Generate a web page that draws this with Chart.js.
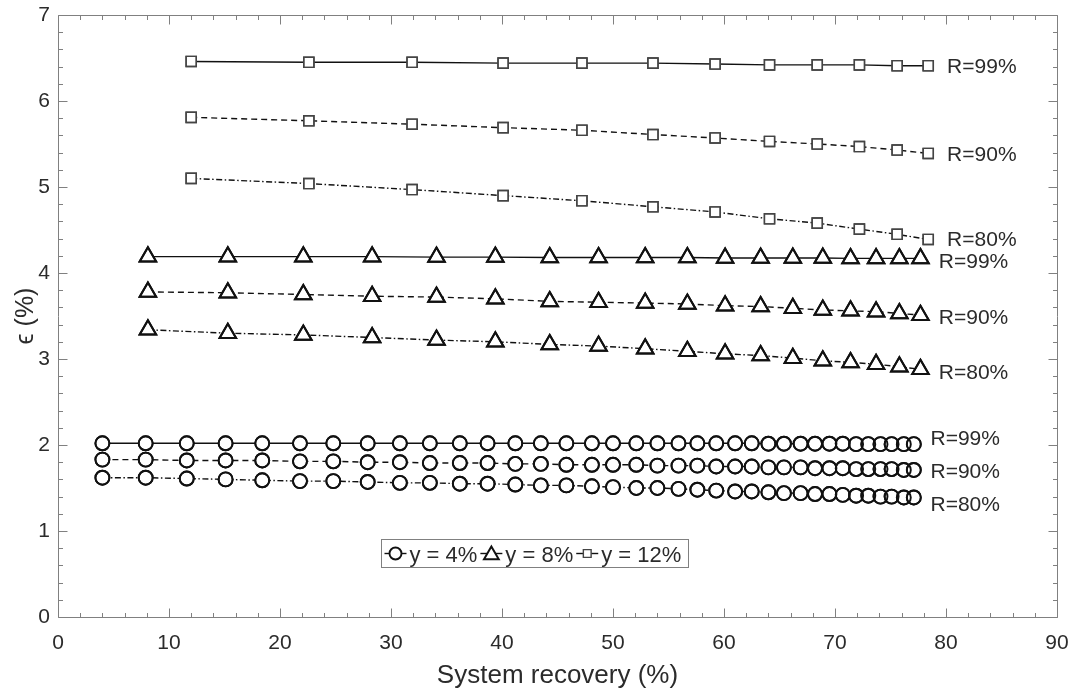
<!DOCTYPE html>
<html lang="en">
  <head>
    <meta charset="UTF-8" />
    <title>System recovery vs epsilon</title>
    <style>
      html, body { margin: 0; padding: 0; background: #fff; }
      #wrap { width: 1078px; height: 691px; }
    </style>
  </head>
  <body>
    <div id="wrap">
      <canvas id="myChart" width="1078" height="691"></canvas>
    </div>
    <script src="https://cdn.jsdelivr.net/npm/chart.js@4.4.1/dist/chart.umd.min.js"></script>
    <script>
      // ---- data ----
      const gasLabels = ["y = 4%", "y = 8%", "y = 12%"];
      const recoveryLabels = ["R=99%", "R=90%", "R=80%"];
      const xTicks = [0, 10, 20, 30, 40, 50, 60, 70, 80, 90];
      const yTicks = [0, 1, 2, 3, 4, 5, 6, 7];

      // y = 4% (circles)
      const recovery4 = [4.0, 7.9, 11.6, 15.1, 18.4, 21.8, 24.8, 27.9, 30.8, 33.5, 36.2, 38.7,
        41.2, 43.5, 45.8, 48.1, 50.0, 52.1, 54.0, 55.9, 57.6, 59.3, 61.0, 62.5,
        64.0, 65.4, 66.9, 68.2, 69.5, 70.7, 71.9, 73.0, 74.1, 75.1, 76.2, 77.1];
      const eps4R99 = [2.02, 2.02, 2.02, 2.02, 2.02, 2.02, 2.02, 2.02, 2.02, 2.02, 2.02, 2.02,
        2.02, 2.02, 2.02, 2.02, 2.02, 2.02, 2.02, 2.02, 2.02, 2.02, 2.02, 2.02,
        2.015, 2.015, 2.015, 2.015, 2.015, 2.015, 2.01, 2.01, 2.01, 2.01, 2.01, 2.01];
      const eps4R90 = [1.83, 1.83, 1.82, 1.82, 1.82, 1.81, 1.81, 1.80, 1.80, 1.79, 1.79, 1.79,
        1.78, 1.78, 1.77, 1.77, 1.77, 1.77, 1.76, 1.76, 1.76, 1.75, 1.75, 1.75,
        1.74, 1.74, 1.74, 1.73, 1.73, 1.73, 1.72, 1.72, 1.72, 1.72, 1.71, 1.71];
      const eps4R80 = [1.62, 1.62, 1.61, 1.60, 1.59, 1.58, 1.58, 1.57, 1.56, 1.56, 1.55, 1.55,
        1.54, 1.53, 1.53, 1.52, 1.51, 1.50, 1.50, 1.49, 1.48, 1.47, 1.46, 1.46,
        1.45, 1.44, 1.44, 1.43, 1.43, 1.42, 1.41, 1.41, 1.40, 1.40, 1.39, 1.39];

      // y = 8% (triangles)
      const recovery8 = [8.1, 15.3, 22.1, 28.3, 34.1, 39.4, 44.3, 48.7, 52.9, 56.7, 60.1, 63.3,
        66.2, 68.9, 71.4, 73.7, 75.8, 77.7];
      const eps8R99 = [4.19, 4.19, 4.19, 4.19, 4.185, 4.185, 4.18, 4.18, 4.18, 4.18, 4.175, 4.175,
        4.175, 4.175, 4.17, 4.17, 4.17, 4.17];
      const eps8R90 = [3.78, 3.77, 3.75, 3.73, 3.72, 3.70, 3.67, 3.66, 3.65, 3.64, 3.62, 3.61,
        3.59, 3.57, 3.56, 3.55, 3.53, 3.51];
      const eps8R80 = [3.34, 3.30, 3.28, 3.25, 3.22, 3.20, 3.17, 3.15, 3.12, 3.09, 3.06, 3.04,
        3.01, 2.98, 2.96, 2.94, 2.91, 2.88];

      // y = 12% (squares)
      const recovery12 = [12.0, 22.6, 31.9, 40.1, 47.2, 53.6, 59.2, 64.1, 68.4, 72.2, 75.6, 78.4];
      const eps12R99 = [6.46, 6.45, 6.45, 6.44, 6.44, 6.44, 6.43, 6.42, 6.42, 6.42, 6.41, 6.41];
      const eps12R90 = [5.81, 5.77, 5.73, 5.69, 5.66, 5.61, 5.57, 5.53, 5.50, 5.47, 5.43, 5.39];
      const eps12R80 = [5.10, 5.04, 4.97, 4.90, 4.84, 4.77, 4.71, 4.63, 4.58, 4.51, 4.45, 4.39];

      // text labels next to the curves, in data units (like MATLAB text())
      const labelAnchors = [
        { text: recoveryLabels[0], x: 80.1, y: 6.39 },
        { text: recoveryLabels[1], x: 80.1, y: 5.37 },
        { text: recoveryLabels[2], x: 80.1, y: 4.38 },
        { text: recoveryLabels[0], x: 79.35, y: 4.13 },
        { text: recoveryLabels[1], x: 79.35, y: 3.475 },
        { text: recoveryLabels[2], x: 79.35, y: 2.84 },
        { text: recoveryLabels[0], x: 78.6, y: 2.07 },
        { text: recoveryLabels[1], x: 78.6, y: 1.68 },
        { text: recoveryLabels[2], x: 78.6, y: 1.30 },
      ];

      // ---- styles ----
      const FONT = "'Liberation Sans', Arial, Helvetica, sans-serif";
      const TEXT_COLOR = "#2b2b2b";
      const AXIS_COLOR = "#808080";
      const DASHES = [[], [6, 4], [6, 2.5, 1.5, 2.5]];
      const MARKERS = [
        { pointStyle: "circle", radius: 7, borderWidth: 1.9, color: "#111", legendRadius: 6 },
        { pointStyle: "triangle", radius: 9.5, borderWidth: 2, color: "#111", legendRadius: 8.5 },
        { pointStyle: "rect", radius: 7.2, borderWidth: 1.4, color: "#444", legendRadius: 5.5 },
      ];

      const groups = [
        { x: recovery4, series: [eps4R99, eps4R90, eps4R80] },
        { x: recovery8, series: [eps8R99, eps8R90, eps8R80] },
        { x: recovery12, series: [eps12R99, eps12R90, eps12R80] },
      ];

      const datasets = [];
      groups.forEach((g, gi) => {
        const m = MARKERS[gi];
        g.series.forEach((vals, ri) => {
          const pts = g.x.map((x, i) => ({ x: x, y: vals[i] }));
          // line + white-filled markers (hides the line inside markers)
          datasets.push({
            label: gasLabels[gi] + " " + recoveryLabels[ri],
            data: pts,
            showLine: true,
            borderColor: "#111",
            borderWidth: 1.4,
            borderDash: DASHES[ri],
            pointStyle: m.pointStyle,
            pointRadius: m.radius,
            pointBorderWidth: m.borderWidth,
            pointBorderColor: m.color,
            pointBackgroundColor: "#fff",
            order: 2,
          });
          // outlines again on top so overlapping markers stay visible
          datasets.push({
            label: gasLabels[gi] + " " + recoveryLabels[ri] + " outline",
            data: pts,
            showLine: false,
            pointStyle: m.pointStyle,
            pointRadius: m.radius,
            pointBorderWidth: m.borderWidth,
            pointBorderColor: m.color,
            pointBackgroundColor: "rgba(0,0,0,0)",
            order: 1,
          });
        });
      });

      // box + inward major/minor ticks on all four sides
      const boxTicks = {
        id: "boxTicks",
        afterDraw(chart) {
          const { ctx, chartArea: a, scales } = chart;
          const L = Math.round(a.left) + 0.5, R = Math.round(a.right) + 0.5;
          const T = Math.round(a.top) + 0.5, B = Math.round(a.bottom) + 0.5;
          ctx.save();
          ctx.strokeStyle = AXIS_COLOR;
          ctx.lineWidth = 1;
          ctx.beginPath();
          ctx.rect(L, T, R - L, B - T);
          const major = 9, minor = 4.5;
          for (let i = 0; i < xTicks.length; i++) {
            for (let k = 0; k < 5; k++) {
              if (i === xTicks.length - 1 && k > 0) break;
              const v = xTicks[i] + k * (i < xTicks.length - 1 ? (xTicks[i + 1] - xTicks[i]) / 5 : 0);
              const px = Math.round(scales.x.getPixelForValue(v)) + 0.5;
              const len = k === 0 ? major : minor;
              ctx.moveTo(px, B); ctx.lineTo(px, B - len);
              ctx.moveTo(px, T); ctx.lineTo(px, T + len);
            }
          }
          for (let i = 0; i < yTicks.length; i++) {
            for (let k = 0; k < 5; k++) {
              if (i === yTicks.length - 1 && k > 0) break;
              const v = yTicks[i] + k * (i < yTicks.length - 1 ? (yTicks[i + 1] - yTicks[i]) / 5 : 0);
              const py = Math.round(scales.y.getPixelForValue(v)) + 0.5;
              const len = k === 0 ? major : minor;
              ctx.moveTo(L, py); ctx.lineTo(L + len, py);
              ctx.moveTo(R, py); ctx.lineTo(R - len, py);
            }
          }
          ctx.stroke();
          ctx.restore();
        },
      };

      // R=.. labels next to the curves
      const curveLabels = {
        id: "curveLabels",
        afterDraw(chart) {
          const { ctx, scales } = chart;
          ctx.save();
          ctx.font = "21px " + FONT;
          ctx.fillStyle = TEXT_COLOR;
          ctx.textAlign = "left";
          ctx.textBaseline = "middle";
          labelAnchors.forEach((l) => {
            ctx.fillText(l.text, scales.x.getPixelForValue(l.x), scales.y.getPixelForValue(l.y));
          });
          ctx.restore();
        },
      };

      // boxed horizontal legend inside the axes
      const boxLegend = {
        id: "boxLegend",
        afterDraw(chart) {
          const { ctx, scales } = chart;
          const left = Math.round(scales.x.getPixelForValue(29.1)) + 0.5;
          const top = Math.round(scales.y.getPixelForValue(0.91)) + 0.5;
          const h = 28;
          ctx.save();
          ctx.font = "22px " + FONT;
          let x = left + 3;
          const cy = top + h / 2;
          const items = [];
          gasLabels.forEach((t, i) => {
            const w = ctx.measureText(t).width;
            items.push({ t, i, x, w });
            x += 22 + 3 + w + 3;
          });
          const right = Math.round(x + 4) + 0.5;
          ctx.fillStyle = "#fff";
          ctx.fillRect(left, top, right - left, h);
          ctx.strokeStyle = AXIS_COLOR;
          ctx.lineWidth = 1;
          ctx.strokeRect(left, top, right - left, h);
          items.forEach((it) => {
            const m = MARKERS[it.i];
            ctx.strokeStyle = "#111";
            ctx.lineWidth = 1.4;
            ctx.setLineDash([]);
            ctx.beginPath();
            ctx.moveTo(it.x, cy);
            ctx.lineTo(it.x + 22, cy);
            ctx.stroke();
            ctx.fillStyle = "#fff";
            ctx.strokeStyle = m.color;
            ctx.lineWidth = m.borderWidth;
            Chart.helpers.drawPoint(ctx, {
              pointStyle: m.pointStyle,
              radius: m.legendRadius,
              rotation: 0,
              borderWidth: m.borderWidth,
            }, it.x + 11, cy + (m.pointStyle === "triangle" ? 1.5 : 0));
            ctx.fillStyle = TEXT_COLOR;
            ctx.textAlign = "left";
            ctx.textBaseline = "middle";
            ctx.fillText(it.t, it.x + 25, cy + 2);
          });
          ctx.restore();
        },
      };

      const ctx = document.getElementById("myChart");
      const myChart = new Chart(ctx, {
        type: "scatter",
        data: { datasets: datasets },
        plugins: [boxTicks, curveLabels, boxLegend],
        options: {
          responsive: false,
          animation: false,
          events: [],
          layout: { padding: { left: 0, right: 21, top: 15, bottom: 0 } },
          plugins: {
            legend: { display: false },
            tooltip: { enabled: false },
          },
          scales: {
            x: {
              type: "linear",
              min: 0,
              max: 90,
              afterBuildTicks: (s) => { s.ticks = xTicks.map((v) => ({ value: v })); },
              afterFit: (s) => { s.height = 74; s.paddingLeft = 0; s.paddingRight = 0; },
              grid: { display: false, drawTicks: false },
              border: { display: false },
              ticks: { font: { size: 21, family: FONT }, color: TEXT_COLOR, padding: 14, maxRotation: 0 },
              title: {
                display: true,
                text: "System recovery (%)",
                font: { size: 26, family: FONT },
                color: TEXT_COLOR,
                padding: { top: 0, bottom: 0 },
              },
            },
            y: {
              type: "linear",
              min: 0,
              max: 7,
              afterBuildTicks: (s) => { s.ticks = yTicks.map((v) => ({ value: v })); },
              afterFit: (s) => { s.width = 58; s.paddingTop = 0; s.paddingBottom = 0; },
              grid: { display: false, drawTicks: false },
              border: { display: false },
              ticks: { font: { size: 21, family: FONT }, color: TEXT_COLOR, padding: 8 },
              title: {
                display: true,
                text: "ϵ (%)",
                font: { size: 25, family: FONT },
                color: TEXT_COLOR,
                padding: { top: 11, bottom: 0 },
              },
            },
          },
        },
      });
    </script>
  </body>
</html>
